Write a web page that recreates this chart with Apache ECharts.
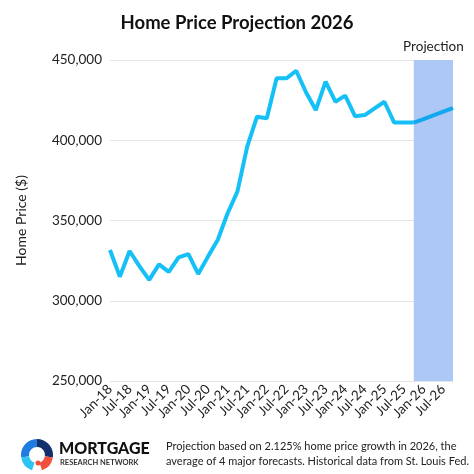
<!DOCTYPE html>
<html><head><meta charset="utf-8">
<script src="https://cdn.jsdelivr.net/npm/echarts@6/dist/echarts.min.js"></script>
<style>html,body{margin:0;padding:0;background:#fff}#c{width:474px;height:474px}</style>
</head><body><div id="c"></div>
<script>
const months=['Jan','Apr','Jul','Oct'];
const categories=[];
for(let y=18;y<=26;y++)for(const m of months)categories.push(m+'-'+y);
const historical=[331.6,315,331,321.6,313,322.7,318,327,329,316.7,327.5,338,354.5,368,396,414.7,413.7,438.6,438.6,443.3,429.9,418.8,436.5,424,427.8,415,415.7,419.9,424,411,411,411];
const projection=[411,413.2,415.5,417.8,420];
const yTicks=[250000,300000,350000,400000,450000];
const histData=historical.map(v=>v*1000);
const projData=categories.map((c,i)=>i<31?null:projection[i-31]*1000);
const chart=echarts.init(document.getElementById('c'));
const F='Lato';
chart.setOption({
  animation:false,
  title:{text:'Home Price Projection 2026',left:'center',top:9,textStyle:{fontFamily:F,fontWeight:'bold',fontSize:18.5,color:'#111'}},
  grid:{left:110,right:21,top:60,bottom:93},
  xAxis:{type:'category',data:categories,boundaryGap:false,
    axisLine:{show:false},axisTick:{show:false},
    axisLabel:{interval:1,rotate:45,fontFamily:F,fontSize:13.5,color:'#222',margin:6}},
  yAxis:{type:'value',min:yTicks[0],max:yTicks[yTicks.length-1],interval:50000,
    name:'Home Price ($)',nameLocation:'middle',nameGap:82,nameTextStyle:{fontFamily:F,fontSize:14,color:'#222'},
    axisLabel:{fontFamily:F,fontSize:13.5,color:'#222',formatter:v=>v.toLocaleString('en-US')},
    splitLine:{lineStyle:{color:'#e4e4e4',width:1}}},
  series:[
    {type:'line',data:histData,symbol:'none',lineStyle:{color:'#14c0f5',width:4},z:3,
      markArea:{silent:true,itemStyle:{color:'#adc8f5'},label:{show:true,position:'top',formatter:'Projection',fontFamily:F,fontSize:13.5,color:'#222',distance:6},
        data:[[{xAxis:'Oct-25'},{xAxis:'Oct-26'}]]}},
    {type:'line',data:projData,symbol:'none',lineStyle:{color:'#12a8ee',width:4},z:3}
  ],
  graphic:[
    {type:'sector',shape:{cx:37,cy:455,r:16,r0:8,startAngle:Math.PI*0.95,endAngle:Math.PI*1.5},style:{fill:'#1f7be0'}},
    {type:'sector',shape:{cx:37,cy:455,r:16,r0:8,startAngle:Math.PI*1.5,endAngle:Math.PI*2.05},style:{fill:'#12306b'}},
    {type:'sector',shape:{cx:37,cy:455,r:16,r0:8,startAngle:Math.PI*0.6,endAngle:Math.PI*0.95},style:{fill:'#2ec4f2'}},
    {type:'sector',shape:{cx:37,cy:455,r:16,r0:8,startAngle:Math.PI*0.05,endAngle:Math.PI*0.4},style:{fill:'#f0503c'}},
    {type:'circle',shape:{cx:38,cy:463,r:2.5},style:{fill:'#f0503c'}},
    {type:'text',left:59,top:441,style:{text:'MORTGAGE',font:'900 16px Lato',fill:'#111'}},
    {type:'text',left:60,top:459,style:{text:'RESEARCH NETWORK',font:'bold 7.5px Lato',fill:'#333'}},
    {type:'text',left:166,top:439,style:{text:'Projection based on 2.125% home price growth in 2026, the\naverage of 4 major forecasts. Historical data from St. Louis Fed.',font:'11px Lato',fill:'#222',lineHeight:15}}
  ]
});
</script></body></html>
